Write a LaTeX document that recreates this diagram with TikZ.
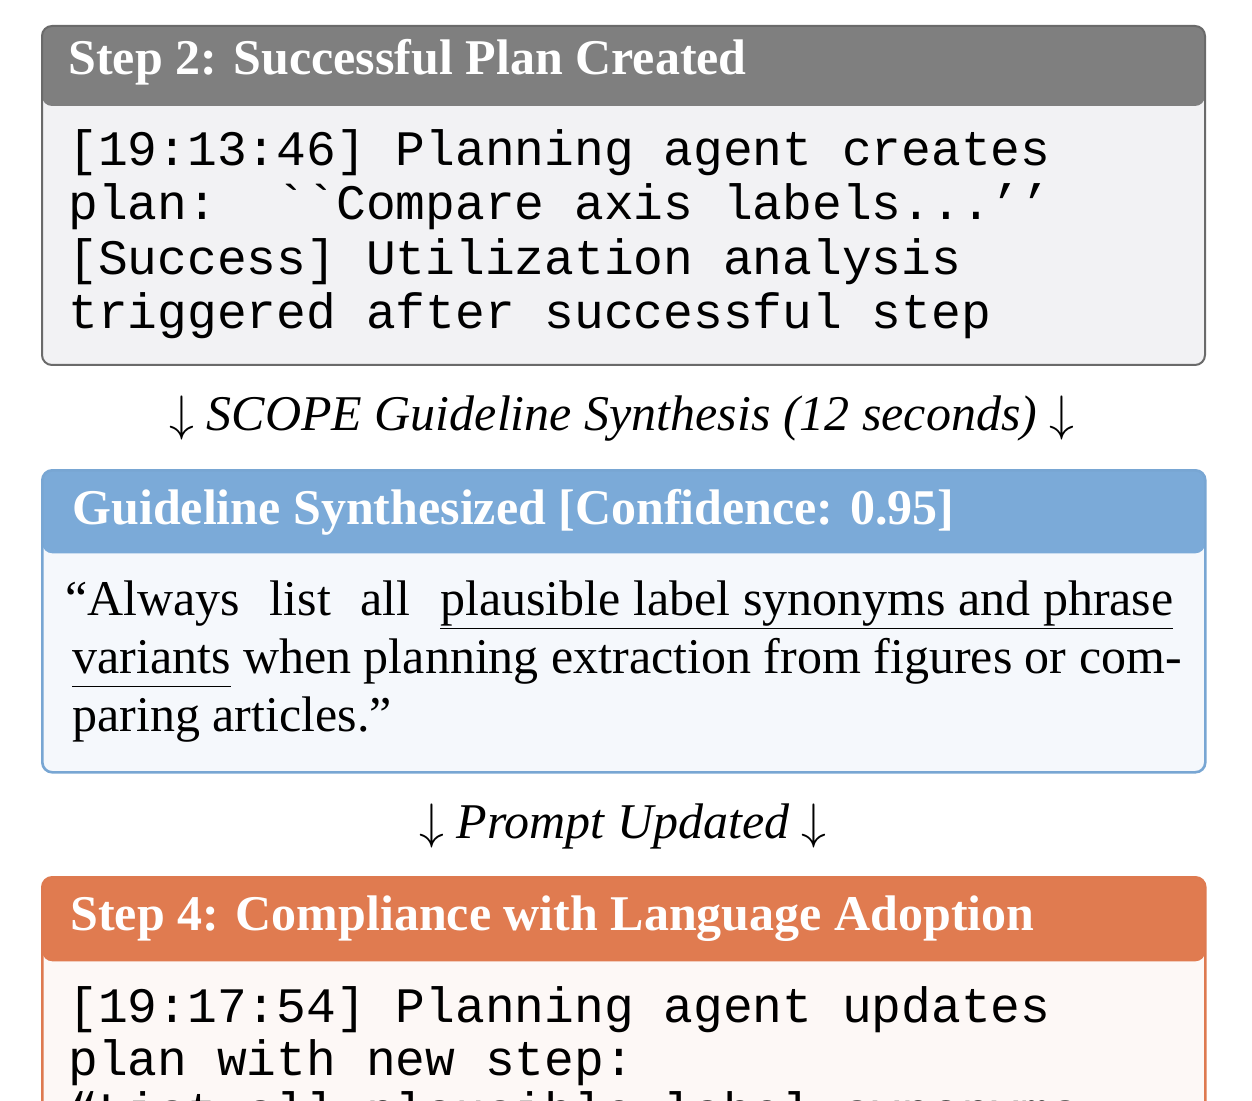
\documentclass[tikz,border=0pt]{standalone}
\usepackage{fontspec}
\setmainfont{Liberation Serif}
\setmonofont{Liberation Mono}
\definecolor{ghead}{HTML}{7F7F7F}
\definecolor{gbody}{HTML}{F2F2F4}
\definecolor{gborder}{HTML}{6A6A6A}
\definecolor{bhead}{HTML}{7BAAD8}
\definecolor{bbody}{HTML}{F5F8FC}
\definecolor{bborder}{HTML}{78A6D3}
\definecolor{ohead}{HTML}{E07B50}
\definecolor{obody}{HTML}{FDF8F6}
\definecolor{oborder}{HTML}{DE7A50}
\tikzset{
  boxbase/.style={rectangle, rounded corners=5pt, line width=1pt, inner sep=0pt,
    anchor=north west, minimum width=581.5pt},
  graybox/.style={boxbase, draw=gborder, fill=gbody, minimum height=169.5pt,
    path picture={\fill[ghead] (path picture bounding box.north west) rectangle ([yshift=-40pt]path picture bounding box.north east);}},
  bluebox/.style={boxbase, draw=bborder, line width=1.3pt, fill=bbody, minimum height=151pt,
    path picture={\fill[bhead] (path picture bounding box.north west) rectangle ([yshift=-41.5pt]path picture bounding box.north east);}},
  orangebox/.style={boxbase, draw=oborder, line width=1.3pt, fill=obody, minimum height=137pt,
    path picture={\fill[ohead] (path picture bounding box.north west) rectangle ([yshift=-42pt]path picture bounding box.north east);}},
  headtxt/.style={anchor=base west, inner sep=0pt, text=white, font=\fontsize{25}{30}\selectfont\bfseries},
  monotxt/.style={anchor=base west, inner sep=0pt, font=\fontsize{24.8}{27}\selectfont\ttfamily\frenchspacing},
  bodytxt/.style={anchor=base west, inner sep=0pt, font=\fontsize{25}{29}\selectfont\frenchspacing},
  arrowtxt/.style={anchor=base, inner sep=0pt, font=\fontsize{25}{29}\selectfont\itshape},
}
\newcommand{\myul}[1]{\underline{#1\vphantom{y}}}
\begin{document}
\begin{tikzpicture}[x=0.5pt, y=-0.5pt]
  \useasboundingbox (0,0) rectangle (1252,1101);
  \clip (0,0) rectangle (1252,1101);
  \fill[white] (0,0) rectangle (1252,1101);

  % Box 1
  \node[graybox] (b1) at (41,25) {};
  \node[headtxt] (h1) at (68,75) {Step 2: Successful Plan Created};
  \node[monotxt] (l11) at (68,166) {[19:13:46] Planning agent creates};
  \node[monotxt] (l12) at (68,220) {plan:~ ``Compare axis labels...’’};
  \node[monotxt] (l13) at (68,275) {[Success] Utilization analysis};
  \node[monotxt] (l14) at (68,329) {triggered after successful step};

  % Arrow label 1
  \node[arrowtxt] (a1) at (622,430) {$\downarrow$ SCOPE Guideline Synthesis (12 seconds) $\downarrow$};

  % Box 2
  \node[bluebox] (b2) at (41,469) {};
  \node[headtxt] (h2) at (72,524) {Guideline Synthesized [Confidence: 0.95]};
  \node[bodytxt] (l21) at (65,615) {\makebox[554pt][s]{“Always list all \myul{plausible label synonyms and phrase}}};
  \node[bodytxt] (l22) at (72,673) {\myul{variants} when planning extraction from figures or com-};
  \node[bodytxt] (l23) at (72,731) {paring articles.”};

  % Arrow label 2
  \node[arrowtxt] (a2) at (623,838) {$\downarrow$ Prompt Updated $\downarrow$};

  % Box 3
  \node[orangebox] (b3) at (41,876) {};
  \node[headtxt] (h3) at (70,930) {Step 4: Compliance with Language Adoption};
  \node[monotxt] (l31) at (68,1022) {[19:17:54] Planning agent updates};
  \node[monotxt] (l32) at (68,1075) {plan with new step:};
  \node[monotxt] (l33) at (68,1127) {“List all plausible label synonyms};
\end{tikzpicture}
\end{document}
